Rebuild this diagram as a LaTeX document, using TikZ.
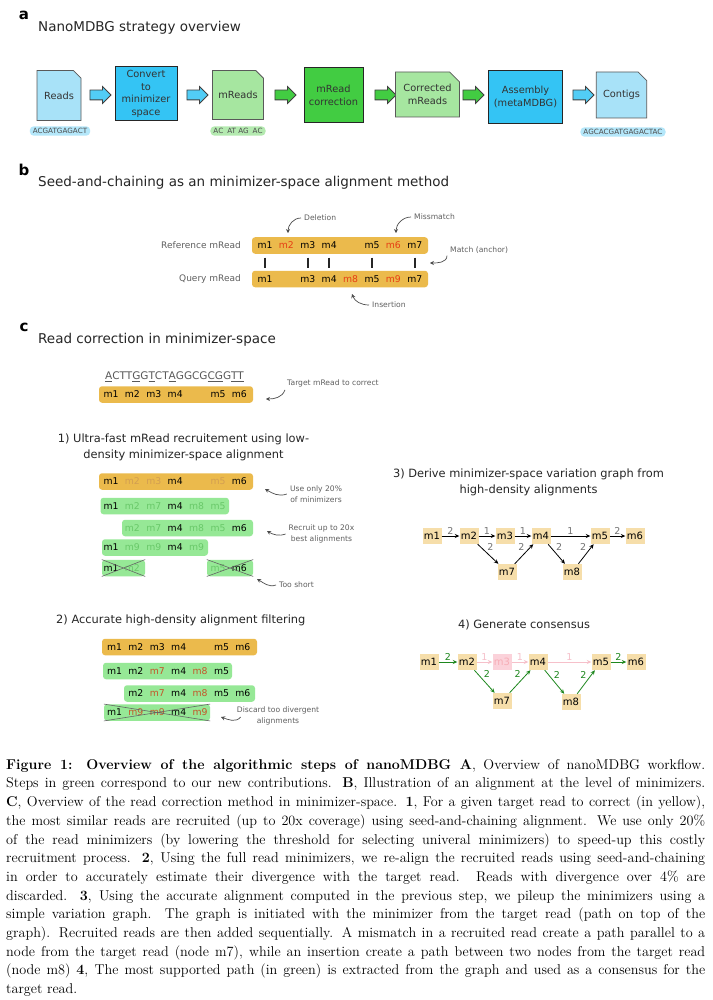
\documentclass[tikz,border=0pt]{standalone}
\usepackage{fontspec}
\setsansfont{DejaVu Sans}
\usepackage{tikz}
\usetikzlibrary{shapes.misc,shapes.arrows,arrows.meta}

\definecolor{readblue}{RGB}{168,226,248}
\definecolor{pillblue}{RGB}{180,231,250}
\definecolor{stepblue}{RGB}{52,196,244}
\definecolor{readgreen}{RGB}{166,230,160}
\definecolor{pillgreen}{RGB}{180,234,176}
\definecolor{stepgreen}{RGB}{66,204,66}
\definecolor{baryellow}{RGB}{235,186,76}
\definecolor{bargreen}{RGB}{150,232,150}
\definecolor{fadeyellow}{RGB}{210,158,82}
\definecolor{fadegreen}{RGB}{105,200,105}
\definecolor{tokred}{RGB}{230,62,20}
\definecolor{tokbrown}{RGB}{196,84,40}
\definecolor{nodebeige}{RGB}{246,222,170}
\definecolor{notegray}{RGB}{95,95,95}
\definecolor{pathgreen}{RGB}{30,135,30}
\definecolor{fadepink}{RGB}{246,192,202}
\definecolor{nodepink}{RGB}{251,210,218}

\tikzset{
  panellab/.style={font=\sffamily\bfseries\fontsize{15}{15}\selectfont, inner sep=0pt},
  paneltitle/.style={font=\sffamily\fontsize{13.5}{16}\selectfont, text=black!85, inner sep=0pt, anchor=west},
  stephead/.style={font=\sffamily\fontsize{11.4}{16}\selectfont, text=black!85, inner sep=0pt, align=center},
  doc/.style={chamfered rectangle, chamfered rectangle corners=north east, chamfered rectangle xsep=7pt,
    draw=black!65, line width=0.8pt, align=center, inner sep=1pt, text=black!80,
    font=\sffamily\fontsize{9.8}{12.5}\selectfont},
  stepbox/.style={rectangle, draw=black!85, line width=1pt, align=center, inner sep=1pt, text=black!80,
    font=\sffamily\fontsize{9.8}{12.5}\selectfont},
  flow/.style={single arrow, draw=black!75, line width=0.8pt, minimum height=21pt,
    single arrow head extend=3.5pt, inner xsep=0pt, inner ysep=4.5pt},
  pill/.style={rounded corners=4pt, inner xsep=3pt, inner ysep=2pt, text=black!70,
    font=\sffamily\fontsize{7.2}{8}\selectfont},
  mbar/.style={rectangle, fill=baryellow, rounded corners=3pt, minimum height=16.5pt, inner sep=0pt},
  gbar/.style={mbar, fill=bargreen},
  tok/.style={font=\sffamily\fontsize{9.3}{10}\selectfont, inner sep=0pt},
  sidelab/.style={font=\sffamily\fontsize{9}{10}\selectfont, text=notegray, inner sep=0pt, anchor=east},
  note/.style={font=\sffamily\fontsize{7.6}{10.5}\selectfont, text=notegray, inner sep=0pt, align=center},
  notearrow/.style={-{Stealth[length=4pt,width=4.2pt]}, draw=black!70, line width=0.7pt},
  matchtick/.style={line width=1.6pt, draw=black!85, shorten <=12pt, shorten >=11pt},
  crossline/.style={draw=black!60, line width=0.6pt},
  gnode/.style={rectangle, fill=nodebeige, minimum width=19pt, minimum height=16pt, inner sep=1pt,
    font=\sffamily\fontsize{10}{10}\selectfont},
  garrow/.style={-{Stealth[length=4.5pt,width=4pt]}, line width=0.8pt, draw=black},
  glab/.style={font=\sffamily\fontsize{9.5}{10}\selectfont, text=black!55, inner sep=1pt}
}

\begin{document}
\begin{tikzpicture}[x=1pt, y=-1pt]
    \useasboundingbox (0,0) rectangle (712,1000);
    \fill[white] (0,0) rectangle (712,1000);

    % Panel a: strategy overview
    \node[panellab] (laba) at (24,15) {a};
    \node[paneltitle] (titlea) at (38,28) {NanoMDBG strategy overview};

    \node[doc, fill=readblue, minimum width=44pt, minimum height=50pt] (reads) at (59,95.5) {Reads};
    \node[flow, fill=stepblue!85] (f1) at (98,95) {};
    \node[stepbox, fill=stepblue, minimum width=62pt, minimum height=54pt] (conv) at (146,94) {Convert\\to\\minimizer\\space};
    \node[flow, fill=stepblue!85] (f2) at (195,95) {};
    \node[doc, fill=readgreen, minimum width=48pt, minimum height=49pt] (mreads) at (238,95) {mReads};
    \node[flow, fill=stepgreen] (f3) at (283,95) {};
    \node[stepbox, fill=stepgreen, minimum width=59pt, minimum height=55pt] (corr) at (333.5,95.5) {mRead\\correction};
    \node[flow, fill=stepgreen] (f4) at (383,95) {};
    \node[doc, fill=readgreen, minimum width=57pt, minimum height=45pt] (cmreads) at (427.5,94.5) {Corrected\\mReads};
    \node[flow, fill=stepgreen] (f5) at (471,95) {};
    \node[stepbox, fill=stepblue, minimum width=74pt, minimum height=53pt] (asm) at (525.5,97) {Assembly\\(metaMDBG)};
    \node[flow, fill=stepblue!85] (f6) at (581,95) {};
    \node[doc, fill=readblue, minimum width=45pt, minimum height=46pt] (contigs) at (621.5,95) {Contigs};

    \node[pill, fill=pillblue] (seqreads) at (60,131) {ACGATGAGACT};
    \node[pill, fill=pillgreen] (seqmreads) at (238,131) {AC\hspace{4pt}AT AG\hspace{4pt}AC};
    \node[pill, fill=pillblue] (seqcontigs) at (623,132) {AGCACGATGAGACTAC};

    % Panel b: minimizer-space alignment
    \node[panellab] (labb) at (24,170) {b};
    \node[paneltitle] (titleb) at (38,183) {Seed-and-chaining as an minimizer-space alignment method};

    \node[sidelab] (reflab) at (241,245.5) {Reference mRead};
    \node[sidelab] (qlab) at (241,279) {Query mRead};
    \node[mbar, minimum width=176pt] (refbar) at (340,245.5) {};
    \node[mbar, minimum width=176pt] (qbar) at (340,279) {};
    \foreach \cn/\mm/\cc in {1/m1/black,2/m2/tokred,3/m3/black,4/m4/black,6/m5/black,7/m6/tokred,8/m7/black} {
        \pgfmathsetmacro{\xx}{265+21.4*(\cn-1)}
        \node[tok, text=\cc] (r\mm) at (\xx,245.5) {\mm};
    }
    \foreach \cn/\mm/\cc in {1/m1/black,3/m3/black,4/m4/black,5/m8/tokred,6/m5/black,7/m9/tokred,8/m7/black} {
        \pgfmathsetmacro{\xx}{265+21.4*(\cn-1)}
        \node[tok, text=\cc] (q\mm) at (\xx,279) {\mm};
    }
    \foreach \mm in {m1,m3,m4,m5,m7}
        \draw[matchtick] (r\mm.center) -- (q\mm.center);

    \node[note, anchor=west] (deltxt) at (304,218) {Deletion};
    \coordinate (delend) at (288,233);
    \draw[notearrow] ([xshift=-3pt]deltxt.west) to[out=180,in=90] (delend);
    \node[note, anchor=west] (misstxt) at (414,217) {Missmatch};
    \coordinate (missend) at (396,233);
    \draw[notearrow] ([xshift=-3pt]misstxt.west) to[out=180,in=90] (missend);
    \node[note, anchor=west] (matchtxt) at (450,250) {Match (anchor)};
    \coordinate (matchend) at (430,263);
    \draw[notearrow] ([xshift=-3pt,yshift=-2pt]matchtxt.south west) to[out=-90,in=0] (matchend);
    \node[note, anchor=west] (instxt) at (372,305) {Insertion};
    \coordinate (insend) at (352,294);
    \draw[notearrow] ([xshift=-3pt]instxt.west) to[out=180,in=-70] (insend);

    % Panel c: read correction
    \node[panellab] (labc) at (24,327) {c};
    \node[paneltitle] (titlec) at (38,340) {Read correction in minimizer-space};

    \node[font=\sffamily\fontsize{10.5}{12}\selectfont, text=black!65, inner sep=0pt] (seq) at (174.5,377)
        {\underline{A}CTT\underline{G}G\underline{T}CT\underline{A}GGCG\underline{CG}G\underline{TT}};
    \node[mbar, minimum width=154pt] (tgtbar) at (176,394.5) {};
    \foreach \cn/\mm in {1/m1,2/m2,3/m3,4/m4,6/m5,7/m6} {
        \pgfmathsetmacro{\xx}{111+21.4*(\cn-1)}
        \node[tok] (tgt\mm) at (\xx,394.5) {\mm};
    }
    \node[note, anchor=west] (tgttxt) at (287,383) {Target mRead to correct};
    \coordinate (tgtend) at (266,399);
    \draw[notearrow] ([xshift=-2pt,yshift=-3pt]tgttxt.south west) to[out=-110,in=0] (tgtend);

    % 1) low-density recruitment
    \node[stephead] (head1) at (183.5,447) {1) Ultra-fast mRead recruitement using low-\\density minimizer-space alignment};
    \node[mbar, minimum width=154pt] (low0) at (176,481.5) {};
    \foreach \cn/\mm/\cc [count=\i] in {1/m1/black,2/m2/fadeyellow,3/m3/fadeyellow,4/m4/black,6/m5/fadeyellow,7/m6/black} {
        \pgfmathsetmacro{\xx}{111+21.4*(\cn-1)}
        \node[tok, text=\cc] (low0t\i) at (\xx,481.5) {\mm};
    }
    \node[gbar, minimum width=128.5pt] (low1) at (164.75,506) {};
    \foreach \cn/\mm/\cc [count=\i] in {1/m1/black,2/m2/fadegreen,3/m7/fadegreen,4/m4/black,5/m8/fadegreen,6/m5/fadegreen} {
        \pgfmathsetmacro{\xx}{111+21.4*(\cn-1)}
        \node[tok, text=\cc] (low1t\i) at (\xx,506) {\mm};
    }
    \node[gbar, minimum width=131pt] (low2) at (187.5,528) {};
    \foreach \cn/\mm/\cc [count=\i] in {2/m2/fadegreen,3/m7/fadegreen,4/m4/black,5/m8/fadegreen,6/m5/fadegreen,7/m6/black} {
        \pgfmathsetmacro{\xx}{111+21.4*(\cn-1)}
        \node[tok, text=\cc] (low2t\i) at (\xx,528) {\mm};
    }
    \node[gbar, minimum width=106pt] (low3) at (155,547.5) {};
    \foreach \cn/\mm/\cc [count=\i] in {1/m1/black,2/m9/fadegreen,3/m9/fadegreen,4/m4/black,5/m9/fadegreen} {
        \pgfmathsetmacro{\xx}{111+21.4*(\cn-1)}
        \node[tok, text=\cc] (low3t\i) at (\xx,547.5) {\mm};
    }
    \node[gbar, minimum width=43pt] (low4) at (123.5,568) {};
    \node[gbar, minimum width=46pt] (low5) at (230,568) {};
    \node[tok] (low4t1) at (111,568) {m1};
    \node[tok, text=fadegreen] (low4t2) at (132.4,568) {m2};
    \node[tok, text=fadegreen] (low5t1) at (218,568) {m5};
    \node[tok] (low5t2) at (239.4,568) {m6};
    \foreach \b in {low4,low5}
        \draw[crossline] (\b.north west) -- (\b.south east) (\b.south west) -- (\b.north east);

    \node[note] (usetxt) at (316,494) {Use only 20\%\\of minimizers};
    \coordinate (useend) at (265,489);
    \draw[notearrow] ([xshift=-3pt]usetxt.west) to[out=200,in=-30] (useend);
    \node[note] (recrtxt) at (321.5,534) {Recruit up to 20x\\best alignments};
    \coordinate (recrend) at (267,531);
    \draw[notearrow] ([xshift=-3pt]recrtxt.west) to[out=200,in=-30] (recrend);
    \node[note, anchor=west] (shorttxt) at (279,585) {Too short};
    \coordinate (shortend) at (257,579);
    \draw[notearrow] ([xshift=-3pt]shorttxt.west) to[out=200,in=-30] (shortend);

    % 2) high-density filtering
    \node[stephead, anchor=west] (head2) at (56,620) {2) Accurate high-density alignment filtering};
    \node[mbar, minimum width=155pt] (high0) at (179.5,647) {};
    \foreach \cn/\mm [count=\i] in {1/m1,2/m2,3/m3,4/m4,6/m5,7/m6} {
        \pgfmathsetmacro{\xx}{114.5+21.4*(\cn-1)}
        \node[tok] (high0t\i) at (\xx,647) {\mm};
    }
    \node[gbar, minimum width=129pt] (high1) at (167.5,671) {};
    \foreach \cn/\mm/\cc [count=\i] in {1/m1/black,2/m2/black,3/m7/tokbrown,4/m4/black,5/m8/tokbrown,6/m5/black} {
        \pgfmathsetmacro{\xx}{114.5+21.4*(\cn-1)}
        \node[tok, text=\cc] (high1t\i) at (\xx,671) {\mm};
    }
    \node[gbar, minimum width=131pt] (high2) at (189.5,693.5) {};
    \foreach \cn/\mm/\cc [count=\i] in {2/m2/black,3/m7/tokbrown,4/m4/black,5/m8/tokbrown,6/m5/black,7/m6/black} {
        \pgfmathsetmacro{\xx}{114.5+21.4*(\cn-1)}
        \node[tok, text=\cc] (high2t\i) at (\xx,693.5) {\mm};
    }
    \node[gbar, minimum width=106pt] (high3) at (157,712.5) {};
    \foreach \cn/\mm/\cc [count=\i] in {1/m1/black,2/m9/tokbrown,3/m9/tokbrown,4/m4/black,5/m9/tokbrown} {
        \pgfmathsetmacro{\xx}{114.5+21.4*(\cn-1)}
        \node[tok, text=\cc] (high3t\i) at (\xx,712.5) {\mm};
    }
    \draw[crossline] (high3.north west) -- (high3.south east) (high3.south west) -- (high3.north east);

    \node[note] (disctxt) at (278,716) {Discard too divergent\\alignments};
    \coordinate (discend) at (221,717);
    \draw[notearrow] ([xshift=4pt,yshift=-1pt]disctxt.west) to[out=230,in=-20] (discend);

    % 3) variation graph
    \node[stephead] (head3) at (528.5,482) {3) Derive minimizer-space variation graph from\\high-density alignments};
    \foreach \n/\x/\y in {1/432/536,2/469/536,3/505/536,4/541/536,5/600/536,6/635/536,7/507/572,8/572/572}
        \node[gnode] (vg\n) at (\x,\y) {m\n};
    \draw[garrow] (vg1) -- node[glab, above] {2} (vg2);
    \draw[garrow] (vg2) -- node[glab, above] {1} (vg3);
    \draw[garrow] (vg3) -- node[glab, above] {1} (vg4);
    \draw[garrow] (vg4) -- node[glab, above] {1} (vg5);
    \draw[garrow] (vg5) -- node[glab, above] {2} (vg6);
    \draw[garrow] (vg2) -- node[glab, above right, pos=0.4] {2} (vg7);
    \draw[garrow] (vg7) -- node[glab, above left, pos=0.6] {2} (vg4);
    \draw[garrow] (vg4) -- node[glab, above right, pos=0.4] {2} (vg8);
    \draw[garrow] (vg8) -- node[glab, above left, pos=0.6] {2} (vg5);

    % 4) consensus path
    \node[stephead] (head4) at (524,625) {4) Generate consensus};
    \foreach \n/\x/\y in {1/429/662,2/467/662,4/538/662,5/601/662,6/636/662,7/502/701,8/571/702}
        \node[gnode] (cg\n) at (\x,\y) {m\n};
    \node[gnode, fill=nodepink, text=fadepink!90!red] (cg3) at (502,662) {m3};
    \draw[garrow, draw=pathgreen] (cg1) -- node[glab, above, text=pathgreen] {2} (cg2);
    \draw[garrow, draw=fadepink] (cg2) -- node[glab, above, text=fadepink] {1} (cg3);
    \draw[garrow, draw=fadepink] (cg3) -- node[glab, above, text=fadepink] {1} (cg4);
    \draw[garrow, draw=fadepink] (cg4) -- node[glab, above, text=fadepink] {1} (cg5);
    \draw[garrow, draw=pathgreen] (cg5) -- node[glab, above, text=pathgreen] {2} (cg6);
    \draw[garrow, draw=pathgreen] (cg2) -- node[glab, above right, pos=0.4, text=pathgreen] {2} (cg7);
    \draw[garrow, draw=pathgreen] (cg7) -- node[glab, above left, pos=0.6, text=pathgreen] {2} (cg4);
    \draw[garrow, draw=pathgreen] (cg4) -- node[glab, above right, pos=0.4, text=pathgreen] {2} (cg8);
    \draw[garrow, draw=pathgreen] (cg8) -- node[glab, above left, pos=0.6, text=pathgreen] {2} (cg5);

    % Caption
    \node[anchor=north west, inner sep=0pt, text width=699pt, align=justify,
          font=\rmfamily\fontsize{14.2}{18.7}\selectfont] (caption) at (6,759) {%
        \textbf{Figure 1: Overview of the algorithmic steps of nanoMDBG A}, Overview of nanoMDBG workflow.\linebreak
        Steps in green correspond to our new contributions. \textbf{B}, Illustration of an alignment at the level of minimizers.\linebreak
        \textbf{C}, Overview of the read correction method in minimizer-space. \textbf{1}, For a given target read to correct (in yellow),\linebreak
        the most similar reads are recruited (up to 20x coverage) using seed-and-chaining alignment. We use only 20\%\linebreak
        of the read minimizers (by lowering the threshold for selecting univeral minimizers) to speed-up this costly\linebreak
        recruitment process. \textbf{2}, Using the full read minimizers, we re-align the recruited reads using seed-and-chaining\linebreak
        in order to accurately estimate their divergence with the target read. Reads with divergence over 4\% are\linebreak
        discarded. \textbf{3}, Using the accurate alignment computed in the previous step, we pileup the minimizers using a\linebreak
        simple variation graph. The graph is initiated with the minimizer from the target read (path on top of the\linebreak
        graph). Recruited reads are then added sequentially. A mismatch in a recruited read create a path parallel to a\linebreak
        node from the target read (node m7), while an insertion create a path between two nodes from the target read\linebreak
        (node m8) \textbf{4}, The most supported path (in green) is extracted from the graph and used as a consensus for the\linebreak
        target read.};
\end{tikzpicture}
\end{document}
